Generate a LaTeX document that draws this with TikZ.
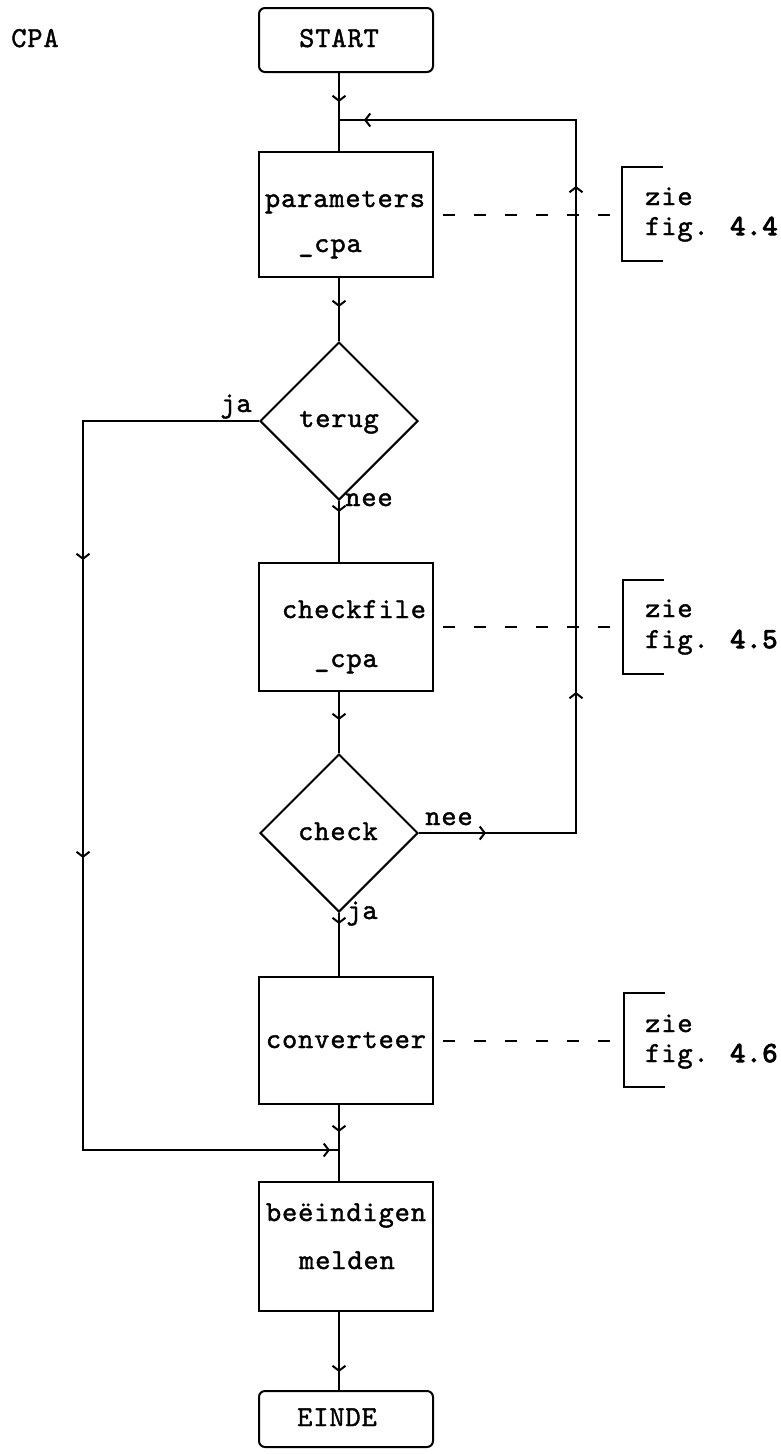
\documentclass[tikz,border=0pt]{standalone}
\usepackage{fontspec}
\newfontfamily\cf{lmmono10-regular.otf}[LetterSpace=3,FakeBold=1.4]
\newfontfamily\cfb{lmmono10-regular.otf}[LetterSpace=3,FakeBold=3.5]
\usetikzlibrary{shapes.geometric,arrows.meta,decorations.markings}
\tikzset{
  ln/.style={line width=2pt},
  box/.style={draw, ln, minimum width=174pt, inner sep=0pt},
  rbox/.style={box, rounded corners=6pt},
  dia/.style={draw, ln, diamond, aspect=1, minimum width=158pt, minimum height=158pt, inner sep=0pt},
  txt/.style={font=\cf\fontsize{29}{34}\selectfont, anchor=base, inner sep=0pt},
  txtw/.style={txt, anchor=base west},
  tipat/.style={postaction={decorate}, decoration={markings, mark=at position #1 with {\arrow{Straight Barb[length=5pt,width=13pt]}}}},
  dsh/.style={ln, dash pattern=on 12pt off 19pt, dash phase=22pt}
}
\begin{document}
\begin{tikzpicture}[x=1pt,y=-1pt]
\useasboundingbox (0,0) rectangle (781,1454);
% boxes
\node[rbox, minimum height=64pt] (start) at (346,40) {};
\node[box, minimum height=125pt] (param) at (346,214.5) {};
\node[dia] (terug) at (339,421) {};
\node[box, minimum height=128pt] (cfile) at (346,627) {};
\node[dia] (chk) at (339,833) {};
\node[box, minimum height=127pt] (conv) at (346,1040.5) {};
\node[box, minimum height=129pt] (beind) at (346,1246.5) {};
\node[rbox, minimum height=56pt] (einde) at (346,1419) {};
% texts
\node[txt] (tcpa) at (35,47) {CPA};
\node[txt] (tstart) at (339,47) {START};
\node[txt] (tparam) at (345,207) {parameters};
\node[txt] (tcpa1) at (330,252) {\_cpa};
\node[txt] (tterug) at (339,427) {terug};
\node[txt] (tcfile) at (354,618) {checkfile};
\node[txt] (tcpa2) at (346,667) {\_cpa};
\node[txt] (tchk) at (338,840) {check};
\node[txt] (tconv) at (346,1048) {converteer};
\node[txt] (tbeind) at (346,1221) {beëindigen};
\node[txt] (tmeld) at (347,1269) {melden};
\node[txt] (teinde) at (337,1426) {EINDE};
\node[txt] (ja1) at (236,412) {ja};
\node[txt] (nee1) at (369,506) {nee};
\node[txt] (nee2) at (449,825) {nee};
\node[txt] (ja2) at (362,919) {ja};
% junctions and corners
\coordinate (j1) at (339,120);
\coordinate (j2) at (339,1150);
\coordinate (lt) at (83,421);
\coordinate (lb) at (83,1150);
\coordinate (rt) at (576,120);
\coordinate (rb) at (576,833);
% main flow
\draw[ln, tipat=29pt] (j1 |- start.south) -- (j1);
\draw[ln] (j1) -- (j1 |- param.north);
\draw[ln, tipat=29pt] (j1 |- param.south) -- (terug.north);
\draw[ln, tipat=11pt] (terug.south) -- (j1 |- cfile.north);
\draw[ln, tipat=28pt] (j1 |- cfile.south) -- (chk.north);
\draw[ln, tipat=11pt] (chk.south) -- (j1 |- conv.north);
\draw[ln, tipat=27pt] (j1 |- conv.south) -- (j2);
\draw[ln] (j2) -- (j1 |- beind.north);
\draw[ln, tipat=60pt] (j1 |- beind.south) -- (j1 |- einde.north);
% loop back (nee)
\draw[ln, postaction={decorate}, decoration={markings,
  mark=at position 67pt with {\arrow{Straight Barb[length=5pt,width=13pt]}},
  mark=at position 298pt with {\arrow{Straight Barb[length=5pt,width=13pt]}},
  mark=at position 804pt with {\arrow{Straight Barb[length=5pt,width=13pt]}},
  mark=at position 1082pt with {\arrow{Straight Barb[length=5pt,width=13pt]}}}]
  (chk.east) -- (rb) -- (rt) -- (j1);
% bypass (ja)
\draw[ln, postaction={decorate}, decoration={markings,
  mark=at position 315pt with {\arrow{Straight Barb[length=5pt,width=13pt]}},
  mark=at position 613pt with {\arrow{Straight Barb[length=5pt,width=13pt]}},
  mark=at position 1152pt with {\arrow{Straight Barb[length=5pt,width=13pt]}}}]
  (terug.west) -- (lt) -- (lb) -- (j2);
% annotations
\coordinate (b1m) at (622,214.5);
\draw[ln] (663,167) -- (622,167) -- (622,261) -- (663,261);
\draw[dsh] (param.east) -- (b1m);
\node[txtw] (z1) at (645,205) {zie};
\node[txtw] (f1) at (645,235) {fig. {\cfb 4.4}};
\coordinate (b2m) at (623,627);
\draw[ln] (664,580) -- (623,580) -- (623,674) -- (664,674);
\draw[dsh] (cfile.east) -- (b2m);
\node[txtw] (z2) at (645,617) {zie};
\node[txtw] (f2) at (645,648) {fig. {\cfb 4.5}};
\coordinate (b3m) at (624,1040.5);
\draw[ln] (665,993) -- (624,993) -- (624,1087) -- (665,1087);
\draw[dsh] (conv.east) -- (b3m);
\node[txtw] (z3) at (645,1032) {zie};
\node[txtw] (f3) at (645,1062) {fig. {\cfb 4.6}};
\end{tikzpicture}
\end{document}
